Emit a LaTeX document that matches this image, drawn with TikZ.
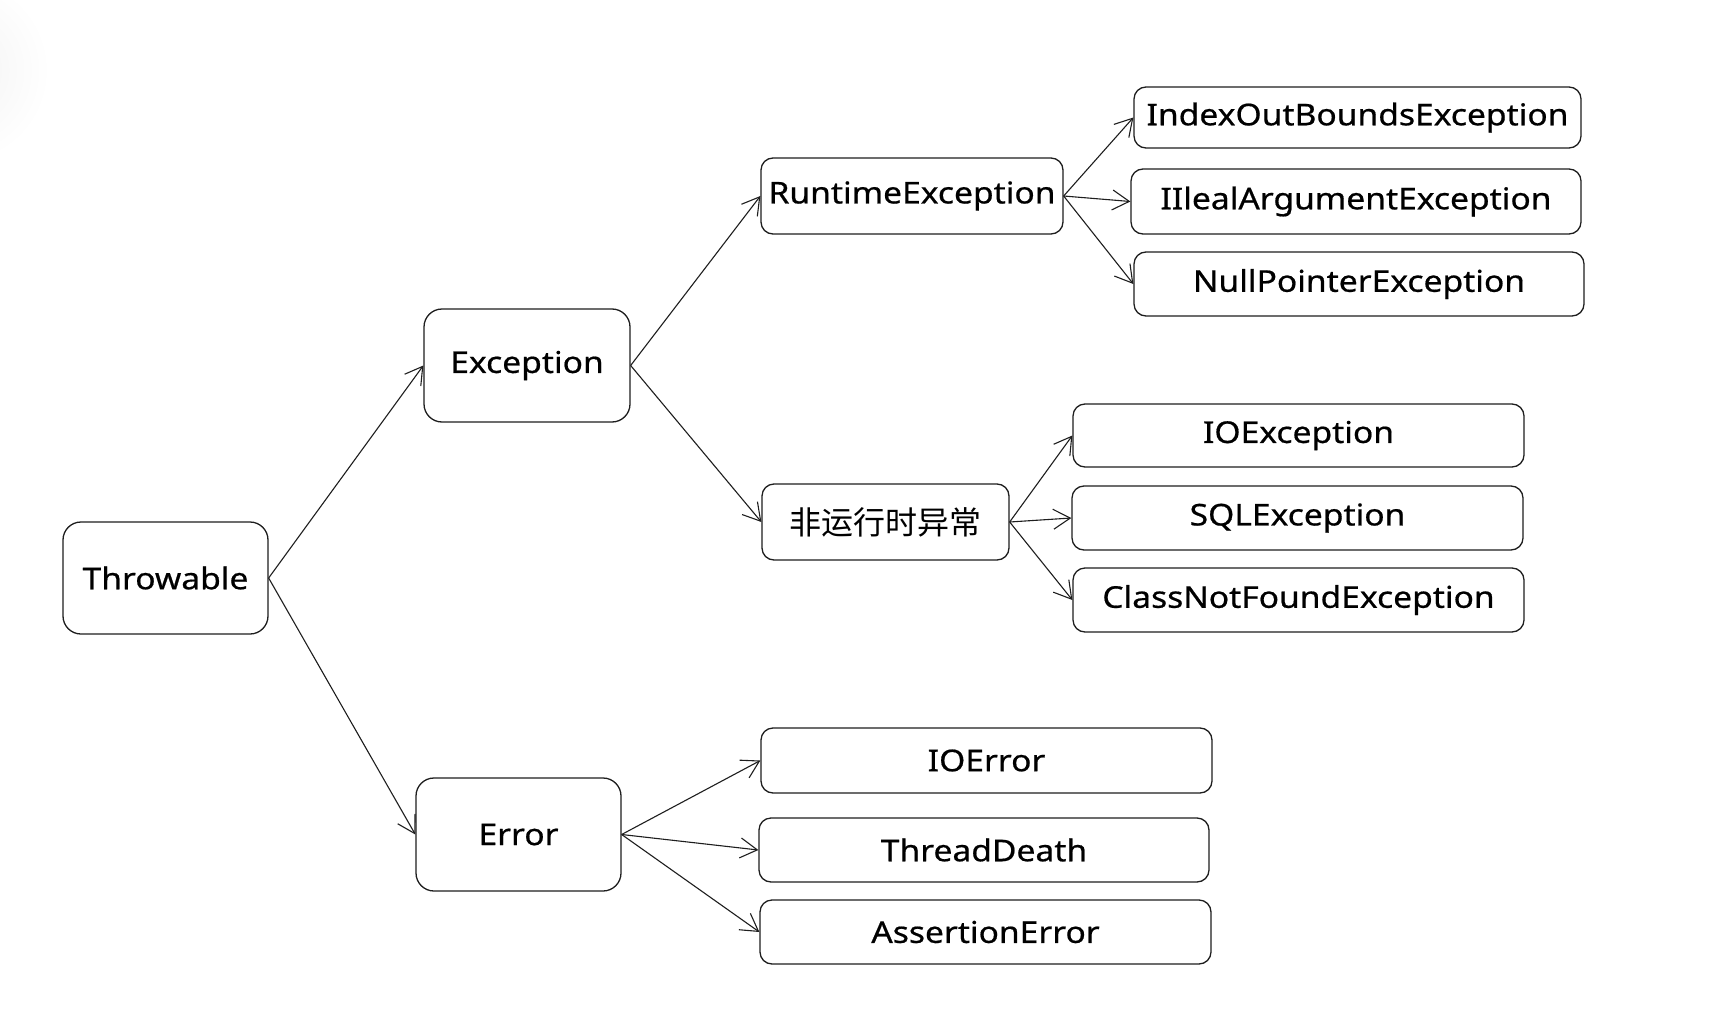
\documentclass[tikz,border=0pt]{standalone}
\usepackage{fontspec}
\setmainfont{Noto Sans}[FakeStretch=1.12, FakeBold=0.6]
\newfontfamily\cjk{Noto Sans CJK SC}
\usetikzlibrary{arrows.meta}
\definecolor{ink}{HTML}{1E1E1E}
\tikzset{
  box/.style={draw=ink, line width=1.3pt, rounded corners=18pt, inner sep=0pt, align=center,
    font=\fontsize{30}{35}\selectfont, text=black},
  wbox/.style={box, rounded corners=12pt},
  link/.style={draw=ink, line width=1.1pt, -{Straight Barb[length=17pt,width=20pt,line width=1.1pt]}},
}
\begin{document}
\begin{tikzpicture}[x=1pt,y=-1pt]
\useasboundingbox (0,0) rectangle (1724,1014);
\fill[white] (0,0) rectangle (1724,1014);
\begin{scope}
\clip (0,0) rectangle (60,200);
\shade[inner color=black!5, outer color=white] (-45,70) circle (95);
\end{scope}
% main nodes
\node[box, minimum width=205pt, minimum height=112pt] (thr) at (165.5,578) {Throwable};
\node[box, minimum width=206pt, minimum height=113pt] (exc) at (527,365.5) {Exception};
\node[box, minimum width=205pt, minimum height=113pt] (err) at (518.5,834.5) {Error};
\node[wbox, minimum width=302pt, minimum height=76pt] (rte) at (912,196) {RuntimeException};
\node[wbox, minimum width=247pt, minimum height=76pt] (nre) at (885.5,522) {\cjk\fontsize{32}{37}\selectfont 非运行时异常};
% leaves
\node[wbox, minimum width=447pt, minimum height=61pt] (iob) at (1357.5,117.5) {IndexOutBoundsException};
\node[wbox, minimum width=450pt, minimum height=65pt] (ill) at (1356,201.5) {IIlealArgumentException};
\node[wbox, minimum width=450pt, minimum height=64pt] (npe) at (1359,284) {NullPointerException};
\node[wbox, minimum width=451pt, minimum height=63pt] (ioe) at (1298.5,435.5) {IOException};
\node[wbox, minimum width=451pt, minimum height=64pt] (sql) at (1297.5,518) {SQLException};
\node[wbox, minimum width=451pt, minimum height=64pt] (cnf) at (1298.5,600) {ClassNotFoundException};
\node[wbox, minimum width=451pt, minimum height=65pt] (ioerr) at (986.5,760.5) {IOError};
\node[wbox, minimum width=450pt, minimum height=64pt] (td) at (984,850) {ThreadDeath};
\node[wbox, minimum width=451pt, minimum height=64pt] (ae) at (985.5,932) {AssertionError};
% connectors
\draw[link] (thr.east) -- (exc.west);
\draw[link] (thr.east) -- (err.west);
\draw[link] (exc.east) -- (rte.west);
\draw[link] (exc.east) -- (nre.west);
\draw[link] (rte.east) -- (iob.west);
\draw[link] (rte.east) -- (ill.west);
\draw[link] (rte.east) -- (npe.west);
\draw[link] (nre.east) -- (ioe.west);
\draw[link] (nre.east) -- (sql.west);
\draw[link] (nre.east) -- (cnf.west);
\draw[link] (err.east) -- (ioerr.west);
\draw[link] (err.east) -- (td.west);
\draw[link] (err.east) -- (ae.west);
\end{tikzpicture}
\end{document}
